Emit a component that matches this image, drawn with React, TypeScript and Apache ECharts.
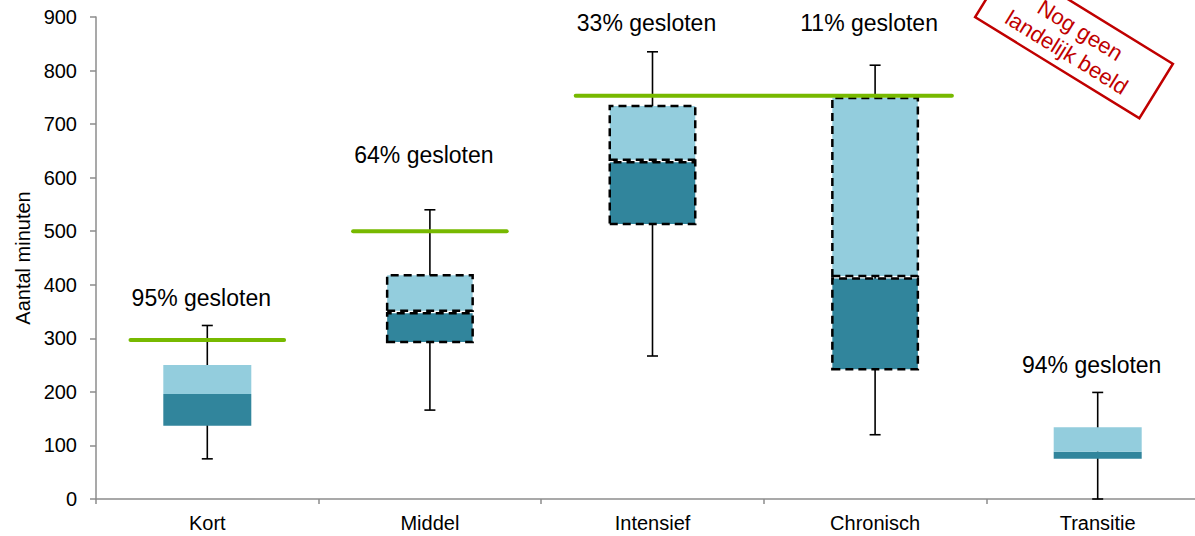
import React, { useEffect, useRef } from "react";
import * as echarts from "echarts";

const categories = ["Kort", "Middel", "Intensief", "Chronisch", "Transitie"];
const whiskerLow = [75, 166, 267, 120, 0];
const boxLow = [137, 291, 511, 240, 75];
const median = [196, 349, 631, 414, 88];
const boxHigh = [250, 420, 736, 751, 134];
const whiskerHigh = [324, 540, 835, 810, 199];
const estimated = [false, true, true, true, false];
const closedLabels = ["95% gesloten", "64% gesloten", "33% gesloten", "11% gesloten", "94% gesloten"];
const labelValue = [375, 642, 889, 889, 250];
const normFrom = [0, 1, 2];
const normTo = [0, 1, 3];
const normValue = [297, 500, 753];
const yMin = 0;
const yMax = 900;
const yInterval = 100;
const yName = "Aantal minuten";
const stampLines = ["Nog geen", "landelijk beeld"];

const FONT = '"Liberation Sans", Arial, sans-serif';
const DARK = "#31859C";
const LIGHT = "#93CDDD";
const GREEN = "#77B900";
const RED = "#C00000";

export default function App() {
  const ref = useRef<HTMLDivElement>(null);
  useEffect(() => {
    if (!ref.current) return;
    const chart = echarts.init(ref.current, undefined, { renderer: "svg" });

    const dashedStyle = (i: number, color: string) =>
      estimated[i]
        ? { color, borderColor: "#000", borderWidth: 2.5, borderType: [8, 5] as any }
        : { color, borderWidth: 0 };

    const option: any = {
      animation: false,
      textStyle: { fontFamily: FONT },
      grid: { left: 96, top: 17, bottom: 37, right: 0, containLabel: false },
      xAxis: {
        type: "category",
        data: categories,
        axisLine: { lineStyle: { color: "#8c8c8c", width: 1.5 } },
        axisTick: { show: true, length: 5, lineStyle: { color: "#8c8c8c", width: 1.5 } },
        axisLabel: { color: "#000", fontSize: 20, fontFamily: FONT, margin: 14 },
        splitLine: { show: false },
      },
      yAxis: {
        type: "value",
        min: yMin,
        max: yMax,
        interval: yInterval,
        name: yName,
        nameLocation: "middle",
        nameGap: 62,
        nameRotate: 90,
        nameTextStyle: { color: "#000", fontSize: 20, fontFamily: FONT },
        axisLine: { show: true, lineStyle: { color: "#8c8c8c", width: 1.5 } },
        axisTick: { show: true, length: 6, lineStyle: { color: "#8c8c8c", width: 1.5 } },
        axisLabel: { color: "#000", fontSize: 20, fontFamily: FONT, margin: 19 },
        splitLine: { show: false },
      },
      series: [
        {
          type: "custom",
          name: "whisker",
          z: 1,
          encode: { x: 0, y: [1, 2] },
          data: categories.map((_, i) => [i, whiskerLow[i], whiskerHigh[i]]),
          renderItem: (params: any, api: any) => {
            const lo = api.coord([api.value(0), api.value(1)]);
            const hi = api.coord([api.value(0), api.value(2)]);
            const cap = 5.5;
            const style = { stroke: "#000", lineWidth: 1.6 };
            return {
              type: "group",
              children: [
                { type: "line", shape: { x1: lo[0], y1: lo[1], x2: hi[0], y2: hi[1] }, style },
                { type: "line", shape: { x1: hi[0] - cap, y1: hi[1], x2: hi[0] + cap, y2: hi[1] }, style },
                { type: "line", shape: { x1: lo[0] - cap, y1: lo[1], x2: lo[0] + cap, y2: lo[1] }, style },
              ],
            };
          },
        },
        {
          type: "bar",
          name: "base",
          stack: "box",
          barWidth: 88,
          z: 2,
          itemStyle: { color: "transparent" },
          data: boxLow,
        },
        {
          type: "bar",
          name: "q1-median",
          stack: "box",
          barWidth: 88,
          z: 2,
          data: categories.map((_, i) => ({
            value: median[i] - boxLow[i],
            itemStyle: dashedStyle(i, DARK),
          })),
        },
        {
          type: "bar",
          name: "median-q3",
          stack: "box",
          barWidth: 88,
          z: 2,
          data: categories.map((_, i) => ({
            value: boxHigh[i] - median[i],
            itemStyle: dashedStyle(i, LIGHT),
          })),
        },
        {
          type: "custom",
          name: "norm",
          z: 5,
          encode: { x: [0, 1], y: 2 },
          data: normValue.map((v, i) => [normFrom[i], normTo[i], v]),
          renderItem: (params: any, api: any) => {
            const p1 = api.coord([api.value(0), api.value(2)]);
            const p2 = api.coord([api.value(1), api.value(2)]);
            const band = api.size([1, 0])[0];
            const half = band * 0.345;
            return {
              type: "line",
              shape: { x1: p1[0] - half, y1: p1[1], x2: p2[0] + half, y2: p2[1] },
              style: { stroke: GREEN, lineWidth: 4, lineCap: "round" },
            };
          },
        },
        {
          type: "custom",
          name: "labels",
          z: 6,
          encode: { x: 0, y: 1 },
          data: categories.map((_, i) => [i, labelValue[i]]),
          renderItem: (params: any, api: any) => {
            const p = api.coord([api.value(0), api.value(1)]);
            return {
              type: "text",
              x: p[0] - 6,
              y: p[1],
              style: {
                text: closedLabels[params.dataIndex],
                fill: "#000",
                font: `23px ${FONT}`,
                textAlign: "center",
                textVerticalAlign: "middle",
                align: "center",
                verticalAlign: "middle",
              },
            };
          },
        },
      ],
      graphic: [
        {
          type: "group",
          x: 1074,
          y: 40.5,
          rotation: -0.552,
          z: 100,
          children: [
            {
              type: "rect",
              shape: { x: -96.5, y: -32, width: 193, height: 64 },
              style: { fill: "rgba(255,255,255,0)", stroke: RED, lineWidth: 2.5 },
            },
            {
              type: "text",
              x: 0,
              y: -12,
              style: {
                text: stampLines[0],
                fill: RED,
                font: `22px ${FONT}`,
                textAlign: "center",
                textVerticalAlign: "middle",
                align: "center",
                verticalAlign: "middle",
              },
            },
            {
              type: "text",
              x: 0,
              y: 14,
              style: {
                text: stampLines[1],
                fill: RED,
                font: `22px ${FONT}`,
                textAlign: "center",
                textVerticalAlign: "middle",
                align: "center",
                verticalAlign: "middle",
              },
            },
          ],
        },
      ],
    };
    chart.setOption(option);
    return () => chart.dispose();
  }, []);

  return (
    <div
      style={{
        position: "fixed",
        left: 0,
        top: 0,
        width: 1195,
        height: 536,
        overflow: "hidden",
        background: "#fff",
      }}
    >
      <div ref={ref} style={{ width: 1209, height: 536 }} />
    </div>
  );
}
